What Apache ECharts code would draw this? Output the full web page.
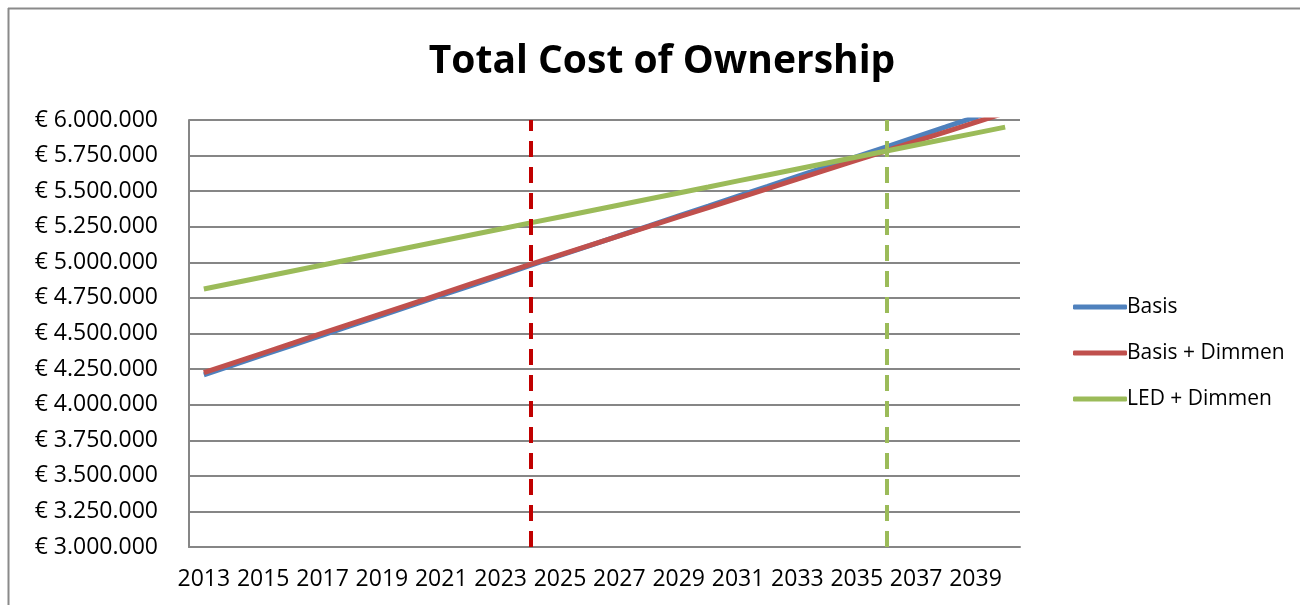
<!DOCTYPE html>
<html>
<head>
<meta charset="utf-8">
<script src="https://cdn.jsdelivr.net/npm/echarts@6/dist/echarts.min.js"></script>
<style>html,body{margin:0;padding:0;background:#fff}#c{width:1300px;height:605px}</style>
</head>
<body>
<div id="c"></div>
<script>
const years = ['2013','2014','2015','2016','2017','2018','2019','2020','2021','2022','2023','2024','2025','2026','2027','2028','2029','2030','2031','2032','2033','2034','2035','2036','2037','2038','2039','2040'];
const basis = [4210000,4280000,4349000,4419000,4488000,4558000,4627000,4697000,4767000,4837000,4907000,4978000,5048000,5117000,5187000,5256000,5326000,5395000,5465000,5534000,5604000,5673000,5743000,5812000,5882000,5951000,6021000,6090000];
const basisDimmen = [4225000,4294000,4363000,4432000,4502000,4571000,4640000,4709000,4778000,4848000,4917000,4986000,5053000,5119000,5186000,5252000,5319000,5385000,5452000,5518000,5585000,5651000,5718000,5784000,5851000,5917000,5984000,6050000];
const ledDimmen = [4813000,4855000,4897000,4939000,4981000,5023000,5066000,5108000,5150000,5192000,5234000,5277000,5319000,5361000,5403000,5445000,5487000,5529000,5572000,5614000,5656000,5698000,5740000,5782000,5824000,5866000,5908000,5950000];
const seriesNames = ['Basis','Basis + Dimmen','LED + Dimmen'];
const breakEvenRed = '2024';
const breakEvenGreen = '2036';
const titleText = 'Total Cost of Ownership';

const FONT = '"Open Sans", "Liberation Sans", sans-serif';
function fmt(v){
  const s = Math.round(v).toString().replace(/\B(?=(\d{3})+(?!\d))/g, '.');
  return '€ ' + s;
}
const chart = echarts.init(document.getElementById('c'), null, {renderer:'canvas'});
chart.setOption({
  animation:false,
  backgroundColor:'#fff',
  title:{text:titleText,left:657,textAlign:'center',top:37,textStyle:{fontFamily:FONT,fontSize:39,fontWeight:'bold',color:'#000'}},
  graphic:[
    {type:'line',shape:{x1:8,y1:8.5,x2:1300,y2:8.5},style:{stroke:'#8a8a8a',lineWidth:2},silent:true},
    {type:'line',shape:{x1:8.5,y1:8,x2:8.5,y2:605},style:{stroke:'#8a8a8a',lineWidth:2},silent:true}
  ],
  legend:{orient:'vertical',left:1068,top:290,itemWidth:54,itemHeight:5,icon:'roundRect',itemGap:22,
    textStyle:{fontFamily:FONT,fontSize:21,color:'#000',lineHeight:24,padding:[0,0,0,-5]},data:seriesNames},
  grid:{left:189,right:280,top:120,bottom:58,containLabel:false},
  xAxis:{type:'category',data:years,boundaryGap:true,
    axisLine:{lineStyle:{color:'#868686',width:2}},axisTick:{show:false},
    axisLabel:{interval:1,margin:21,fontFamily:FONT,fontSize:23,color:'#000'},splitLine:{show:false}},
  yAxis:{type:'value',min:3000000,max:6000000,interval:250000,
    axisLine:{show:true,lineStyle:{color:'#868686',width:2}},axisTick:{show:false},
    axisLabel:{margin:31,fontFamily:FONT,fontSize:23,color:'#000',formatter:fmt},
    splitLine:{lineStyle:{color:'#868686',width:2}}},
  series:[
    {name:seriesNames[0],type:'line',data:basis,symbol:'none',clip:true,lineStyle:{color:'#4F81BD',width:5},itemStyle:{color:'#4F81BD'}},
    {name:seriesNames[1],type:'line',data:basisDimmen,symbol:'none',clip:true,lineStyle:{color:'#C0504D',width:5},itemStyle:{color:'#C0504D'},
      markLine:{symbol:'none',silent:true,label:{show:false},lineStyle:{color:'#C00000',type:[16,10],width:4},data:[{xAxis:breakEvenRed}]}},
    {name:seriesNames[2],type:'line',data:ledDimmen,symbol:'none',clip:true,lineStyle:{color:'#9BBB59',width:5},itemStyle:{color:'#9BBB59'},
      markLine:{symbol:'none',silent:true,label:{show:false},lineStyle:{color:'#9BBB59',type:[16,10],width:4},data:[{xAxis:breakEvenGreen}]}}
  ]
});
</script>
</body>
</html>
